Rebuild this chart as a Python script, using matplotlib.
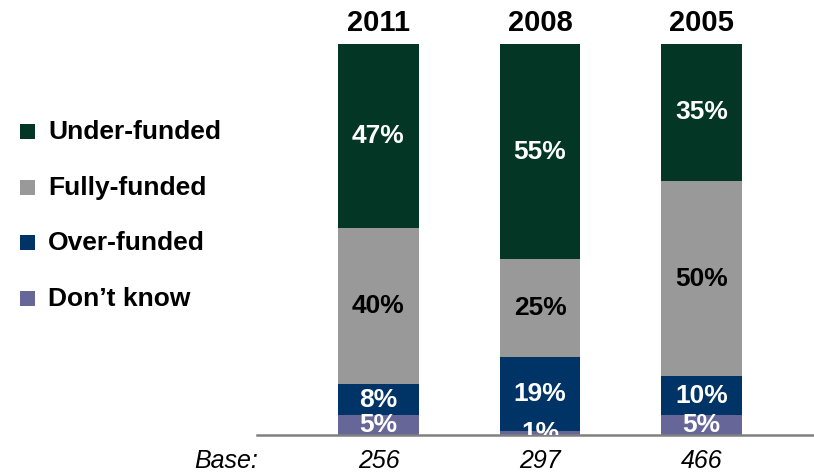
import matplotlib
matplotlib.use("Agg")
from matplotlib import pyplot as plt
from matplotlib.patches import Rectangle

plt.rcParams['font.family'] = ['Liberation Sans', 'DejaVu Sans']

years = ['2011', '2008', '2005']
bases = ['256', '297', '466']
# stacked bottom -> top
categories = ["Don\u2019t know", 'Over-funded', 'Fully-funded', 'Under-funded']
dont_know = [5, 1, 5]
over_funded = [8, 19, 10]
fully_funded = [40, 25, 50]
under_funded = [47, 55, 35]

colors = ['#666699', '#003366', '#999999', '#033624']
text_colors = ['white', 'white', 'black', 'white']
series = [dont_know, over_funded, fully_funded, under_funded]

W, H = 814, 473
fig = plt.figure(figsize=(W / 100, H / 100), dpi=100)
ax = fig.add_axes([257 / W, (H - 435) / H, (813 - 257) / W, (435 - 44) / H])

x = list(range(len(years)))
bottom = [0] * len(years)
for vals, col, tcol in zip(series, colors, text_colors):
    ax.bar(x, vals, width=0.5, bottom=bottom, color=col, edgecolor='none')
    for xi, v, b in zip(x, vals, bottom):
        ax.text(xi, b + v / 2, f'{v}%', ha='center', va='center', color=tcol,
                fontsize=19, fontweight='bold', clip_on=True)
    bottom = [b + v for b, v in zip(bottom, vals)]

ax.set_xlim(-0.752, 2.690)
ax.set_ylim(0, 100)
for s in ['top', 'right', 'left']:
    ax.spines[s].set_visible(False)
ax.spines['bottom'].set_color('#808080')
ax.spines['bottom'].set_linewidth(1.8)
ax.set_yticks([])
ax.set_xticks([])

# year headers and base sizes
for xi, yr, b in zip(x, years, bases):
    ax.annotate(yr, (xi, 1), xycoords=('data', 'axes fraction'), xytext=(0, 21),
                textcoords='offset pixels', ha='center', va='center',
                fontsize=21, fontweight='bold')
    ax.annotate(b, (xi, 0), xycoords=('data', 'axes fraction'), xytext=(0, -26),
                textcoords='offset pixels', ha='center', va='center',
                fontsize=18, fontstyle='italic')
fig.text(258 / W, 1 - 461 / H, 'Base:', ha='right', va='center', fontsize=18,
         fontstyle='italic')

# legend, top -> bottom
leg_y = [132, 187.5, 243, 298.5]
for lab, col, yy in zip(categories[::-1], colors[::-1], leg_y):
    fig.patches.append(Rectangle((20 / W, 1 - (yy + 7.5) / H), 15 / W, 15 / H,
                                 transform=fig.transFigure, facecolor=col,
                                 edgecolor='none'))
    fig.text(48 / W, 1 - yy / H, lab, ha='left', va='center', fontsize=19,
             fontweight='bold')

fig.savefig('out.png', dpi=100)
